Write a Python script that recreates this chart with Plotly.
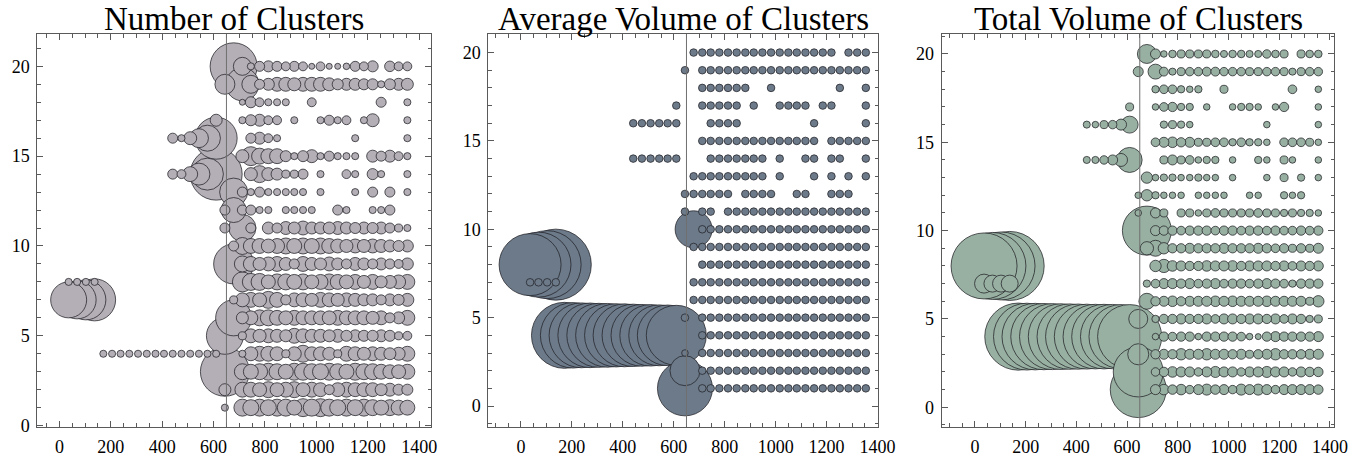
import plotly.graph_objects as go

TITLES = ["Number of Clusters", "Average Volume of Clusters", "Total Volume of Clusters"]
COLORS = ["rgb(180,174,182)", "rgb(108,122,138)", "rgb(152,176,162)"]

# x positions (time) of the columns right of / at the cut, and of the left groups
X_RIGHT = [644, 678, 712, 745, 779, 813, 847, 881, 914, 948, 982, 1016, 1050, 1083,
           1117, 1151, 1185, 1219, 1252, 1286, 1320, 1354]
X_LEFT_ROW4 = [171, 205, 238, 272, 306, 340, 374, 407, 441, 475, 509, 543, 576, 610]
X_LEFT_ROW7_8 = [36, 69, 103, 137]
X_LEFT_ROW14_16 = [441, 475, 509, 543, 576, 610]
X_LEFT_ROW17 = [610]
ROWS = [1, 2, 3, 4, 5, 6, 7, 8, 9, 10, 11, 12, 13, 14, 15, 16, 17, 18, 19, 20]
CUT_X = 650

# ---------------- Number of clusters (0 = no bubble) ----------------
NUM_RIGHT = [
    [1.4, 0, 8.0, 7.1, 8.0, 7.1, 8.0, 8.0, 6.2, 9.0, 8.0, 9.0, 8.0, 7.1, 8.0, 7.1, 8.0, 7.1, 6.2, 7.1, 6.2, 6.2],
    [4.0, 0, 6.2, 6.2, 5.4, 7.1, 5.4, 6.2, 7.1, 5.4, 6.2, 5.4, 2.8, 5.4, 6.2, 5.4, 5.4, 5.4, 4.0, 4.7, 3.4, 3.4],
    [66.7, 0, 7.1, 6.2, 7.1, 8.0, 7.1, 6.2, 8.0, 8.0, 7.1, 7.1, 8.0, 7.1, 6.2, 8.0, 7.1, 7.1, 6.2, 5.4, 5.4, 6.2],
    [0, 0, 1.4, 5.4, 6.2, 6.2, 5.4, 1.8, 5.4, 8.0, 5.4, 5.4, 4.7, 1.8, 6.2, 5.4, 4.7, 5.4, 4.7, 4.0, 4.7, 6.2],
    [38.0, 0, 1.8, 5.4, 4.7, 5.4, 4.7, 4.0, 6.2, 5.4, 4.7, 4.7, 4.0, 4.7, 3.4, 4.0, 3.4, 3.4, 4.0, 3.4, 1.8, 2.2],
    [0, 36.0, 4.0, 5.4, 7.1, 7.1, 6.2, 5.4, 6.2, 5.4, 5.4, 5.4, 5.4, 6.2, 5.4, 5.4, 5.4, 4.7, 5.4, 2.8, 4.0, 6.2],
    [0, 1.8, 5.4, 6.2, 5.4, 8.0, 6.2, 2.8, 5.4, 5.4, 4.7, 6.2, 5.4, 4.7, 5.4, 4.7, 4.0, 4.0, 2.8, 4.0, 3.4, 4.7],
    [0, 0, 11.1, 8.0, 8.0, 5.4, 7.1, 7.1, 6.2, 7.1, 5.4, 6.2, 7.1, 6.2, 5.4, 6.2, 4.7, 6.2, 4.0, 4.7, 5.4, 6.2],
    [0, 44.4, 7.1, 6.2, 4.7, 5.4, 6.2, 4.7, 2.8, 6.2, 4.7, 4.0, 5.4, 4.0, 2.8, 4.7, 4.0, 2.8, 4.0, 2.8, 2.2, 4.0],
    [0, 2.8, 8.0, 6.2, 6.2, 5.4, 6.2, 7.1, 6.2, 7.1, 6.2, 7.1, 6.2, 5.4, 4.7, 5.4, 4.7, 5.4, 4.7, 4.0, 3.4, 4.0],
    [2.8, 0, 20.3, 2.8, 0, 4.0, 2.8, 4.7, 4.0, 5.4, 4.0, 4.0, 4.0, 4.7, 4.0, 3.4, 4.0, 3.4, 4.0, 2.8, 1.8, 1.4],
    [2.8, 17.4, 2.8, 2.8, 1.4, 1.4, 0, 1.4, 1.4, 1.4, 1.4, 0, 0, 2.8, 1.4, 0, 0, 1.4, 1.4, 2.8, 0, 0],
    [0, 21.8, 2.8, 1.4, 2.8, 1.4, 1.4, 1.4, 1.4, 1.4, 0, 1.4, 0, 0, 0, 1.4, 0, 2.8, 0, 2.8, 0, 1.4],
    [0, 0, 0, 4.7, 8.0, 4.7, 4.0, 1.8, 1.8, 2.8, 0, 1.4, 0, 0, 2.2, 1.4, 0, 3.4, 1.4, 0, 0, 1.4],
    [0, 0, 4.7, 10.0, 7.1, 6.2, 6.2, 3.4, 1.4, 3.4, 4.7, 1.4, 2.8, 1.4, 1.4, 1.4, 0, 4.0, 2.8, 4.0, 2.2, 1.4],
    [0, 0, 0, 2.8, 4.0, 2.2, 1.4, 0, 0, 0, 0, 0, 0, 0, 0, 1.4, 0, 0, 0, 0, 0, 1.4],
    [0, 0, 1.4, 3.4, 4.0, 2.2, 2.2, 0, 1.4, 0, 0, 1.4, 2.8, 1.4, 2.2, 0, 1.4, 4.7, 0, 0, 0, 1.4],
    [0, 0, 1.0, 3.4, 2.2, 1.4, 1.4, 1.4, 0, 0, 2.2, 0, 0, 0, 0, 0, 0, 0, 2.8, 0, 0, 1.4],
    [11.1, 0, 30.3, 9.0, 2.8, 4.0, 5.4, 5.4, 4.7, 5.4, 5.4, 5.4, 4.7, 3.4, 4.0, 4.0, 3.4, 3.4, 1.4, 3.4, 4.0, 4.0],
    [0, 61.4, 9.0, 1.4, 2.8, 3.4, 2.8, 2.2, 2.8, 2.2, 1.0, 2.2, 1.0, 1.0, 1.2, 2.8, 2.2, 3.4, 0, 3.1, 2.2, 2.2],
]
NUM_LEFT_ROW4 = [1.4, 1.4, 1.4, 1.4, 1.4, 1.4, 1.4, 1.4, 1.4, 1.4, 1.4, 1.4, 1.4, 1.4]
NUM_LEFT_ROW7 = [36.0, 40.1, 44.4, 49.0]
NUM_LEFT_ROW8 = [1.4, 1.4, 1.4, 1.4]
NUM_LEFT_ROW14 = [2.8, 2.2, 6.2, 13.4, 28.4, 75.1]
NUM_LEFT_ROW16 = [2.8, 1.4, 4.7, 10.0, 18.8, 49.0]
NUM_LEFT_ROW17 = [4.0]

# ---------------- Average volume of clusters ----------------
AVG_RIGHT = [
    [84.0, 0, 1.6, 1.6, 1.6, 1.6, 1.6, 1.6, 1.6, 1.6, 1.6, 1.6, 1.6, 1.6, 1.6, 1.6, 1.6, 1.6, 1.6, 1.6, 1.6, 1.6],
    [25.0, 0, 1.6, 1.6, 1.6, 1.6, 1.6, 1.6, 1.6, 1.6, 1.6, 1.6, 1.6, 1.6, 1.6, 1.6, 1.6, 1.6, 1.6, 1.6, 1.6, 1.6],
    [1.2, 0, 1.6, 1.6, 1.6, 1.6, 1.6, 1.6, 1.6, 1.6, 1.6, 1.6, 1.6, 1.6, 1.6, 1.6, 1.6, 1.6, 1.6, 1.6, 1.6, 1.6],
    [0, 0, 1.6, 1.6, 1.6, 1.6, 1.6, 1.6, 1.6, 1.6, 1.6, 1.6, 1.6, 1.6, 1.6, 1.6, 1.6, 1.6, 1.6, 1.6, 1.6, 1.6],
    [1.6, 0, 1.6, 1.6, 1.6, 1.6, 1.6, 1.6, 1.6, 1.6, 1.6, 1.6, 1.6, 1.6, 1.6, 1.6, 1.6, 1.6, 1.6, 1.6, 1.6, 1.6],
    [0, 1.6, 1.6, 1.6, 1.6, 1.6, 1.6, 1.6, 1.6, 1.6, 1.6, 1.6, 1.6, 1.6, 1.6, 1.6, 1.6, 1.6, 1.6, 1.6, 1.6, 1.6],
    [0, 1.6, 1.6, 1.6, 1.6, 1.6, 1.6, 1.6, 1.6, 1.6, 1.6, 1.6, 1.6, 1.6, 1.6, 1.6, 1.6, 1.6, 1.6, 1.6, 1.6, 1.6],
    [0, 0, 1.6, 1.6, 1.6, 1.6, 1.6, 1.6, 1.6, 1.6, 1.6, 1.6, 1.6, 1.6, 1.6, 1.6, 1.6, 1.6, 1.6, 1.6, 1.6, 1.6],
    [0, 1.6, 1.6, 1.6, 1.6, 1.6, 1.6, 1.6, 1.6, 1.6, 1.6, 1.6, 1.6, 1.6, 1.6, 1.6, 1.6, 1.6, 1.6, 1.6, 1.6, 1.6],
    [0, 38.0, 1.6, 1.6, 1.6, 1.6, 1.6, 1.6, 1.6, 1.6, 1.6, 1.6, 1.6, 1.6, 1.6, 1.6, 1.6, 1.6, 1.6, 1.6, 1.6, 1.6],
    [1.6, 0, 1.6, 1.6, 0, 1.6, 1.6, 1.6, 1.6, 1.6, 1.6, 1.6, 1.6, 1.6, 1.6, 1.6, 1.6, 1.6, 1.6, 1.6, 1.6, 1.6],
    [1.6, 1.6, 1.6, 1.6, 1.6, 1.6, 0, 1.6, 1.6, 1.6, 1.6, 0, 0, 1.6, 1.6, 0, 0, 1.6, 1.6, 1.6, 0, 0],
    [0, 1.6, 1.6, 1.6, 1.6, 1.6, 1.6, 1.6, 1.6, 1.6, 0, 1.6, 0, 0, 0, 1.6, 0, 1.6, 0, 1.6, 0, 1.6],
    [0, 0, 0, 1.6, 1.6, 1.6, 1.6, 1.6, 1.6, 1.6, 0, 1.6, 0, 0, 1.6, 1.6, 0, 1.6, 1.6, 0, 0, 1.6],
    [0, 0, 1.6, 1.6, 1.6, 1.6, 1.6, 1.6, 1.6, 1.6, 1.6, 1.6, 1.6, 1.6, 1.6, 1.6, 0, 1.6, 1.6, 1.6, 1.6, 1.6],
    [0, 0, 0, 1.6, 1.6, 1.6, 1.6, 0, 0, 0, 0, 0, 0, 0, 0, 1.6, 0, 0, 0, 0, 0, 1.6],
    [0, 0, 1.6, 1.6, 1.6, 1.6, 1.6, 0, 1.6, 0, 0, 1.6, 1.6, 1.6, 1.6, 0, 1.6, 1.6, 0, 0, 0, 1.6],
    [0, 0, 1.6, 1.6, 1.6, 1.6, 1.6, 1.6, 0, 0, 1.6, 0, 0, 0, 0, 0, 0, 0, 1.6, 0, 0, 1.6],
    [1.6, 0, 1.6, 1.6, 1.6, 1.6, 1.6, 1.6, 1.6, 1.6, 1.6, 1.6, 1.6, 1.6, 1.6, 1.6, 1.6, 1.6, 1.6, 1.6, 1.6, 1.6],
    [0, 1.6, 1.6, 1.6, 1.6, 1.6, 1.6, 1.6, 1.6, 1.6, 1.6, 1.6, 1.6, 1.6, 1.6, 1.6, 1.6, 1.6, 0, 1.6, 1.6, 1.6],
]
AVG_LEFT_ROW4 = [121.0, 119.0, 117.0, 116.0, 114.0, 113.0, 111.0, 110.0, 108.0, 106.0, 105.0, 103.0, 102.0, 100.0]
AVG_LEFT_ROW7 = [1.6, 1.6, 1.6, 1.6]
AVG_LEFT_ROW8 = [106.8, 117.4, 128.4, 140.0]
AVG_LEFT_ROW14 = [1.6, 1.6, 1.6, 1.6, 1.6, 1.6]
AVG_LEFT_ROW16 = [1.6, 1.6, 1.6, 1.6, 1.6, 1.6]
AVG_LEFT_ROW17 = [1.6]

# ---------------- Total volume of clusters ----------------
TOT_RIGHT = [
    [87.1, 0, 2.8, 3.1, 2.5, 3.1, 2.0, 2.8, 3.4, 2.5, 2.8, 2.0, 3.4, 2.8, 3.4, 2.8, 2.0, 2.8, 2.8, 2.8, 2.8, 2.5],
    [69.4, 0, 2.0, 2.5, 3.1, 2.8, 2.8, 2.0, 2.8, 3.4, 2.8, 2.8, 2.0, 2.8, 2.8, 3.4, 2.8, 2.8, 2.0, 2.8, 2.5, 2.5],
    [12.3, 0, 2.4, 2.8, 2.4, 3.6, 2.8, 2.8, 3.6, 2.8, 2.8, 2.4, 2.8, 1.8, 2.4, 2.8, 3.6, 2.4, 2.4, 2.4, 2.8, 2.8],
    [0, 0, 1.2, 2.4, 2.1, 2.4, 2.4, 1.2, 2.4, 2.4, 2.4, 2.4, 2.1, 1.2, 1.0, 2.4, 2.8, 2.4, 2.4, 2.4, 2.4, 2.8],
    [10.0, 0, 1.5, 2.4, 2.4, 2.8, 2.4, 2.4, 2.8, 2.1, 2.8, 2.8, 2.4, 2.8, 2.8, 2.4, 2.8, 2.1, 2.8, 2.4, 1.5, 1.8],
    [0, 7.1, 2.4, 2.8, 3.1, 2.4, 2.8, 2.8, 2.8, 3.1, 2.8, 3.1, 2.8, 2.8, 2.8, 3.1, 2.8, 2.8, 2.8, 2.8, 1.8, 3.6],
    [0, 1.5, 2.1, 2.8, 2.8, 2.4, 2.8, 2.1, 2.4, 2.8, 2.1, 2.4, 2.4, 2.1, 2.4, 2.8, 2.4, 2.1, 1.5, 2.4, 2.4, 2.4],
    [0, 0, 3.6, 4.9, 3.1, 2.8, 2.4, 2.4, 3.1, 2.8, 2.8, 3.1, 2.4, 2.8, 2.8, 2.8, 2.4, 2.8, 2.1, 2.8, 2.4, 2.8],
    [0, 4.9, 7.1, 3.6, 2.4, 2.4, 2.8, 2.4, 2.4, 2.4, 2.8, 2.4, 2.4, 2.4, 2.8, 2.4, 2.1, 2.4, 1.8, 2.4, 1.8, 2.8],
    [0, 66.7, 2.8, 2.4, 2.4, 2.1, 2.4, 2.4, 2.4, 2.1, 2.4, 2.4, 2.1, 2.4, 2.4, 2.1, 2.4, 2.1, 2.1, 2.4, 2.1, 2.4],
    [1.2, 0, 2.8, 1.8, 0, 1.8, 1.8, 1.2, 1.8, 2.1, 1.8, 1.8, 1.8, 1.8, 2.1, 1.8, 1.8, 1.5, 1.8, 1.5, 1.5, 1.2],
    [1.2, 3.6, 1.5, 1.2, 1.2, 1.2, 0, 1.2, 1.2, 1.2, 1.2, 0, 0, 1.2, 1.2, 0, 0, 1.5, 1.2, 1.5, 0, 0],
    [0, 3.6, 1.2, 1.5, 1.5, 1.2, 1.2, 1.5, 1.2, 1.2, 0, 1.2, 0, 0, 0, 1.2, 0, 1.8, 0, 1.5, 0, 1.2],
    [0, 0, 0, 1.8, 2.8, 1.8, 2.1, 1.2, 1.5, 1.5, 0, 1.2, 0, 0, 1.5, 1.2, 0, 1.8, 1.2, 0, 0, 1.2],
    [0, 0, 2.1, 2.8, 3.1, 2.4, 2.8, 1.8, 1.8, 2.1, 2.1, 1.5, 2.1, 1.5, 1.5, 1.2, 0, 2.1, 2.1, 2.1, 1.8, 1.2],
    [0, 0, 0, 1.5, 1.8, 1.5, 1.2, 0, 0, 0, 0, 0, 0, 0, 0, 1.2, 0, 0, 0, 0, 0, 1.2],
    [0, 0, 1.2, 2.1, 2.4, 1.5, 1.5, 0, 1.2, 0, 0, 1.2, 1.5, 1.5, 1.2, 0, 1.2, 2.4, 0, 0, 0, 1.2],
    [0, 0, 1.5, 2.1, 2.1, 1.5, 1.2, 1.5, 0, 0, 1.8, 0, 0, 0, 0, 0, 0, 0, 2.1, 0, 0, 1.2],
    [2.8, 0, 6.2, 2.2, 1.4, 1.8, 2.0, 2.0, 2.2, 2.2, 2.0, 2.0, 2.0, 1.8, 1.8, 2.0, 2.0, 1.8, 1.4, 1.8, 2.0, 2.0],
    [0, 10.0, 2.8, 1.2, 1.6, 1.8, 1.8, 1.8, 1.8, 1.6, 1.4, 1.6, 1.6, 1.4, 1.4, 2.0, 1.6, 1.8, 0, 1.8, 1.6, 1.6],
]
TOT_LEFT_ROW4 = [125.0, 124.0, 123.0, 122.0, 121.0, 120.0, 119.0, 118.0, 117.0, 116.0, 116.0, 115.0, 114.0, 114.0]
TOT_LEFT_ROW7 = [10.0, 8.0, 8.0, 8.0]
TOT_LEFT_ROW8 = [121.0, 124.7, 128.4, 132.3]
TOT_LEFT_ROW14 = [1.4, 1.4, 2.0, 2.8, 4.7, 17.4]
TOT_LEFT_ROW16 = [1.4, 1.2, 1.8, 2.0, 3.4, 8.0]
TOT_LEFT_ROW17 = [1.8]

PANELS = [
    (NUM_RIGHT, NUM_LEFT_ROW4, NUM_LEFT_ROW7, NUM_LEFT_ROW8, NUM_LEFT_ROW14, NUM_LEFT_ROW16, NUM_LEFT_ROW17),
    (AVG_RIGHT, AVG_LEFT_ROW4, AVG_LEFT_ROW7, AVG_LEFT_ROW8, AVG_LEFT_ROW14, AVG_LEFT_ROW16, AVG_LEFT_ROW17),
    (TOT_RIGHT, TOT_LEFT_ROW4, TOT_LEFT_ROW7, TOT_LEFT_ROW8, TOT_LEFT_ROW14, TOT_LEFT_ROW16, TOT_LEFT_ROW17),
]


def collect(right, l4, l7, l8, l14, l16, l17):
    pts = []
    for yv, row in zip(ROWS, right):
        for xv, v in zip(X_RIGHT, row):
            if v:
                pts.append((xv, yv, v))
    for xs, yv, vals in [(X_LEFT_ROW4, 4, l4), (X_LEFT_ROW7_8, 7, l7), (X_LEFT_ROW7_8, 8, l8),
                         (X_LEFT_ROW14_16, 14, l14), (X_LEFT_ROW14_16, 16, l16), (X_LEFT_ROW17, 17, l17)]:
        for xv, v in zip(xs, vals):
            if v:
                pts.append((xv, yv, v))
    # larger bubbles are drawn first (underneath)
    pts.sort(key=lambda p: -p[2])
    return pts


W, H = 1372, 460
# plot-area pixel boxes (left, right) and shared top/bottom
XPIX = [(37.3, 431.0), (488.3, 878.3), (941.7, 1334.3)]
TOP, BOTTOM = 34.0, 426.7
XRANGES = [[-86, 1446], [-128, 1403], [-131, 1417]]
YRANGES = [[-0.06, 21.8], [-1.17, 21.05], [-1.1, 21.13]]

fig = go.Figure()
FONT = "Liberation Serif"
AXC = "#5a5a5a"

for i, (panel, color) in enumerate(zip(PANELS, COLORS)):
    pts = collect(*panel)
    sfx = "" if i == 0 else str(i + 1)
    fig.add_trace(go.Scatter(
        x=[p[0] for p in pts], y=[p[1] for p in pts],
        mode="markers",
        marker=dict(size=[p[2] for p in pts], sizemode="area", sizeref=1 / 18.0,
                    color=color, opacity=1.0,
                    line=dict(color="rgba(35,35,40,0.95)", width=0.8)),
        xaxis="x" + sfx, yaxis="y" + sfx, showlegend=False, hoverinfo="skip",
    ))
    common = dict(showline=True, linecolor=AXC, linewidth=1, mirror="allticks",
                  ticks="inside", ticklen=6, tickwidth=1, tickcolor=AXC,
                  showgrid=False, zeroline=False, automargin=False,
                  tickfont=dict(family=FONT, size=18, color="black"))
    dom_x = [XPIX[i][0] / W, XPIX[i][1] / W]
    dom_y = [(H - BOTTOM) / H, (H - TOP) / H]
    fig.update_layout(**{
        "xaxis" + sfx: dict(common, domain=dom_x, range=XRANGES[i], anchor="y" + sfx,
                            tickmode="linear", tick0=0, dtick=200, ticklabelstandoff=4,
                            minor=dict(ticks="inside", ticklen=3.5, tickcolor=AXC, dtick=50, tick0=0)),
        "yaxis" + sfx: dict(common, domain=dom_y, range=YRANGES[i], anchor="x" + sfx,
                            tickmode="linear", tick0=0, dtick=5, ticklabelstandoff=3,
                            minor=dict(ticks="inside", ticklen=3.5, tickcolor=AXC, dtick=1, tick0=0)),
    })
    fig.add_shape(type="line", xref="x" + sfx, yref="y" + sfx + " domain",
                  x0=CUT_X, x1=CUT_X, y0=0, y1=1, layer="above",
                  line=dict(color="#707070", width=1))
    fig.add_annotation(text=TITLES[i], xref="paper", yref="paper",
                       x=(XPIX[i][0] + XPIX[i][1]) / 2 / W, y=(H - 18.5) / H,
                       xanchor="center", yanchor="middle", showarrow=False,
                       font=dict(family=FONT, size=33, color="black"))

fig.update_layout(template="none", width=W, height=H,
                  margin=dict(l=0, r=0, t=0, b=0, pad=0, autoexpand=False),
                  paper_bgcolor="white", plot_bgcolor="white")

# remove the browser's default 8px body margin so the figure fills the window
fig.write_html("out.html", config={"displayModeBar": False},
               post_script="document.body.style.margin='0';document.body.style.overflow='hidden';")
